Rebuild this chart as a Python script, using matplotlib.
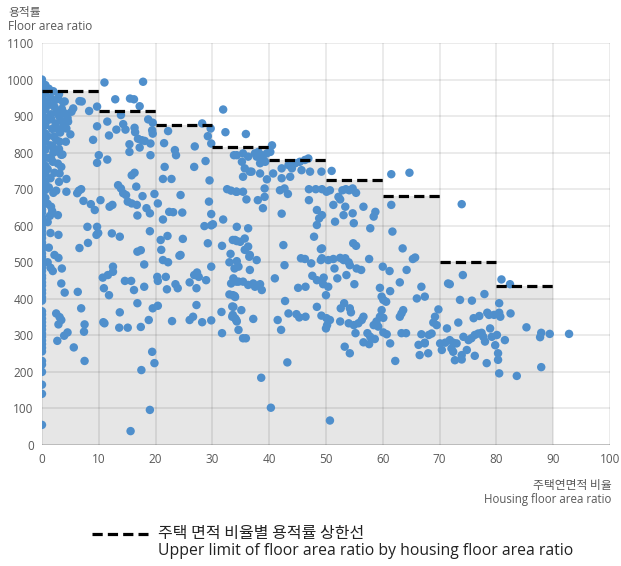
import numpy as np
import matplotlib
matplotlib.use("Agg")
import matplotlib.pyplot as plt
from matplotlib.lines import Line2D

plt.rcParams['font.family'] = ['Noto Sans CJK KR', 'DejaVu Sans']

# 용적률 상한선 (주택연면적 비율 구간별)
bin_edges = [0, 10, 20, 30, 40, 50, 60, 70, 80, 90]
upper_limit = [970, 915, 875, 815, 780, 725, 680, 500, 435]

# 주택연면적 비율 0% 필지의 용적률
zero_ratio_far = [1000, 992, 982, 968, 958, 947, 936, 926, 915, 904, 896, 886, 874, 866, 854,
                  846, 835, 826, 814, 806, 795, 786, 774, 765, 756, 744, 736, 724, 716, 704,
                  694, 686, 674, 666, 655, 644, 636, 624, 616, 605, 594, 586, 575, 566, 554,
                  545, 536, 524, 515, 506, 494, 485, 476, 464, 456, 445, 436, 424, 415, 404,
                  395, 366, 357, 346, 336, 326, 316, 305, 296, 286, 276, 266, 256, 230, 220,
                  200, 165, 140, 55]
near_zero_ratio = [0.6, 0.6, 0.6, 0.6, 0.6, 0.6, 0.6, 0.6, 0.6, 0.6, 0.6, 0.6, 0.6, 0.6, 0.6]
near_zero_far = [985, 962, 940, 918, 896, 874, 852, 830, 808, 786, 764, 742, 720, 698, 676]

# 개별 필지 (주택연면적 비율, 용적률)
ratio_a = [1.2, 2.0, 3.0, 1.5, 2.5, 4.0, 1.0, 2.2, 3.5, 1.6, 3.0, 4.5, 1.2, 2.4, 3.8, 1.8, 3.2,
           5.0, 1.0, 2.5, 4.2, 1.5, 3.0, 2.0, 3.6, 1.3, 2.8, 1.0, 2.2, 1.5, 3.0, 1.2, 2.0, 1.0,
           1.8, 1.0, 1.5, 1.2, 2.2, 1.0, 1.5, 1.9, 2.8, 3.7, 2.6, 4.1, 3.3, 1.6, 4.6, 2.5, 3.7,
           2.1, 3.1, 1.9, 2.8, 3.4, 1.6]
far_a = [975, 968, 960, 950, 945, 940, 930, 925, 920, 905, 900, 895, 890, 880, 875, 865, 855,
         850, 845, 835, 830, 820, 810, 800, 795, 785, 770, 755, 745, 730, 720, 705, 690, 660,
         640, 610, 580, 540, 520, 500, 485, 930, 948, 939, 912, 907, 889, 893, 885, 866, 870,
         844, 830, 816, 803, 794, 784]

ratio_b = [11.0, 17.8, 12.9, 15.5, 16.2, 17.2, 6.6, 7.0, 5.5, 5.2, 8.3, 9.7, 11.5, 13.9, 18.7,
           19.5, 9.7, 4.3, 13.1, 14.3, 14.7, 16.3, 16.4, 19.4, 19.5, 22.2, 28.2, 31.9, 29.7,
           29.2, 32.3, 11.8, 9.0, 16.9, 17.6, 18.1, 15.4, 15.4, 17.2, 19.1, 21.5, 23.4, 23.6,
           26.9, 28.8, 29.8, 33.8, 10.0, 9.7, 11.5, 19.1, 1.9, 3.4, 3.1, 4.3, 16.3, 15.8, 21.6,
           26.8, 21.3, 22.8, 29.5, 4.3, 2.5, 6.5, 6.9, 6.2, 13.4, 13.9, 14.3, 16.6, 14.8, 15.1,
           17.7, 19.8, 20.4, 24.4, 32.6, 33.3, 34.2, 7.3, 8.6, 9.3, 10.3, 11.9, 12.4, 15.8,
           16.7, 18.4, 16.8, 19.0, 21.3, 22.4, 23.1, 24.7, 29.8, 29.4, 31.9, 1.6, 2.8, 1.4,
           2.9, 8.0, 9.7, 9.6, 9.9, 12.3, 13.7, 19.0, 22.1, 24.8, 28.6, 29.8, 30.1, 29.2,
           31.7, 33.6, 34.3, 6.6, 8.1, 16.8, 17.4, 20.9, 21.0, 24.4, 33.2]
far_b = [992, 994, 946, 948, 946, 927, 941, 940, 921, 912, 914, 926, 885, 903, 891, 882, 872,
         866, 863, 878, 863, 868, 856, 861, 852, 859, 880, 918, 866, 845, 856, 847, 835, 838,
         834, 832, 823, 802, 814, 825, 826, 807, 793, 817, 777, 825, 793, 793, 772, 781, 793,
         775, 761, 743, 728, 745, 738, 761, 761, 728, 728, 724, 693, 696, 696, 700, 689, 711,
         702, 689, 707, 684, 666, 681, 687, 661, 684, 700, 696, 693, 668, 659, 643, 670, 652,
         657, 661, 657, 648, 628, 634, 617, 638, 637, 636, 632, 666, 617, 652, 629, 627, 575,
         597, 597, 575, 580, 579, 570, 585, 572, 564, 599, 601, 604, 552, 545, 561, 558, 539,
         553, 529, 533, 561, 534, 520, 523]

ratio_c = [2.9, 1.9, 3.5, 3.4, 4.0, 6.3, 6.9, 2.5, 3.1, 3.4, 2.9, 7.5, 7.4, 4.5, 3.9, 2.7, 5.6,
           7.5, 10.7, 11.6, 12.5, 12.5, 10.9, 11.8, 14.6, 15.7, 16.2, 18.0, 18.0, 16.8, 13.7,
           11.0, 10.8, 13.6, 15.1, 17.4, 18.8, 19.5, 20.4, 19.4, 19.8, 17.5, 19.0, 15.6, 21.3,
           22.2, 24.2, 20.3, 20.4, 21.8, 22.0, 23.5, 23.9, 22.9, 26.0, 26.8, 27.3, 27.6, 27.2,
           28.9, 29.8, 27.2, 26.0, 26.6, 28.2, 29.8, 31.6, 31.7, 33.0, 33.9, 33.3, 34.2, 33.0,
           33.9, 33.5, 33.5, 34.2]
far_c = [512, 476, 483, 442, 417, 419, 374, 360, 350, 342, 330, 330, 310, 308, 299, 285, 267,
         230, 458, 465, 488, 474, 429, 410, 449, 449, 424, 494, 433, 388, 363, 333, 336, 321,
         321, 323, 342, 374, 381, 255, 224, 205, 96, 38, 506, 500, 518, 460, 449, 460, 426,
         440, 429, 339, 445, 465, 472, 460, 429, 451, 488, 383, 342, 351, 336, 341, 364, 306,
         500, 483, 442, 447, 412, 408, 379, 351, 342]

ratio_d = [35.9, 34.3, 35.4, 36.3, 35.2, 35.7, 35.4, 36.6, 37.5, 38.1, 38.7, 39.0, 39.6, 40.2,
           40.5, 38.4, 39.3, 37.8, 36.9, 38.4, 39.6, 40.7, 42.2, 42.2, 43.4, 44.0, 43.7, 44.6,
           45.4, 46.3, 46.9, 45.7, 47.2, 49.2, 51.0, 34.3, 35.4, 36.0, 38.0, 39.2, 39.2, 38.9,
           41.9, 42.7, 43.3, 47.0, 48.2, 49.3, 50.1, 50.7, 47.0, 42.2, 42.5, 48.4, 49.3, 48.8,
           48.4, 47.9, 49.3, 51.3, 51.6, 52.9, 53.5, 54.1, 54.7, 55.3, 52.2, 52.5, 53.4, 53.1,
           54.7, 54.9, 56.6, 57.8, 58.7, 58.4, 54.8, 55.3, 61.5, 64.7, 61.5, 61.7, 63.5, 65.7,
           34.3, 34.0, 34.9, 35.7, 36.3, 36.3, 35.7, 36.6, 45.6, 49.1]
far_d = [851, 793, 798, 789, 775, 757, 734, 748, 798, 802, 793, 780, 798, 802, 820, 771, 775,
         789, 748, 743, 727, 743, 757, 730, 766, 757, 734, 771, 775, 780, 784, 752, 748, 748,
         750, 693, 693, 672, 670, 702, 679, 648, 697, 702, 687, 700, 700, 700, 693, 697, 670,
         633, 547, 643, 629, 620, 602, 570, 538, 657, 611, 697, 700, 697, 702, 690, 679, 672,
         652, 629, 634, 607, 652, 593, 638, 625, 552, 545, 741, 745, 657, 584, 538, 513, 597,
         561, 556, 565, 593, 543, 534, 520, 511, 536]

ratio_e = [36.5, 37.8, 34.3, 34.6, 36.6, 33.7, 34.6, 35.4, 36.3, 37.2, 37.5, 38.4, 38.7, 33.6,
           34.0, 33.7, 35.1, 33.6, 34.0, 34.3, 34.6, 35.4, 35.9, 37.2, 41.0, 42.7, 46.3, 47.4,
           49.1, 47.6, 48.4, 49.6, 45.1, 46.4, 42.8, 41.5, 43.4, 44.8, 45.3, 46.4, 42.1, 48.4,
           49.2, 50.0, 49.5, 50.4, 50.1, 50.7, 50.2, 50.0, 49.3, 50.4, 51.3, 52.5, 53.1, 54.0,
           53.4, 54.2, 51.5, 52.0, 53.6, 55.0, 53.2, 54.2, 54.4, 52.6, 52.5, 54.0, 54.9, 55.7,
           56.3, 56.6, 55.2, 53.3, 54.2, 55.4, 56.2, 57.6, 60.0, 61.2, 63.0, 59.5, 61.3, 59.8,
           60.1, 60.6, 64.2, 65.3, 59.8, 59.5, 58.9, 58.4, 59.2, 60.1, 57.3, 57.8, 56.6, 57.6,
           58.6, 60.1, 60.7, 61.3, 62.2, 63.3, 63.0, 63.6, 63.3, 64.1, 66.0, 66.8, 67.4, 66.3,
           66.5, 67.4, 66.8, 68.1, 38.6, 43.2, 40.3, 50.7]
far_e = [515, 506, 503, 488, 479, 456, 447, 447, 438, 442, 433, 440, 424, 410, 405, 378, 369,
         356, 347, 338, 315, 292, 292, 345, 456, 492, 509, 497, 506, 463, 451, 458, 430, 433,
         394, 342, 360, 358, 349, 351, 315, 378, 354, 410, 440, 433, 347, 342, 328, 319, 511,
         506, 509, 512, 506, 500, 511, 492, 483, 456, 465, 440, 388, 374, 363, 374, 338, 333,
         328, 333, 342, 351, 306, 269, 251, 483, 479, 509, 488, 476, 445, 430, 421, 406, 397,
         392, 479, 509, 369, 351, 338, 328, 324, 348, 306, 296, 281, 276, 290, 308, 303, 278,
         230, 360, 351, 369, 306, 306, 401, 433, 406, 274, 246, 278, 303, 301, 184, 226, 102,
         67]

ratio_f = [73.9, 74.1, 71.5, 71.8, 80.9, 82.4, 77.9, 73.6, 75.7, 80.5, 69.8, 69.2, 68.9, 69.5,
           73.3, 71.3, 76.0, 77.0, 78.4, 78.7, 79.6, 80.5, 80.7, 82.5, 85.3, 87.9, 87.7, 89.4,
           92.8, 87.9, 80.5, 83.6, 67.4, 68.0, 68.6, 70.1, 70.4, 71.0, 71.8, 72.4, 72.1, 72.4,
           72.7, 73.9, 73.9, 73.0, 74.2, 74.8, 75.1, 75.6, 76.2, 76.8, 77.4, 77.7, 78.0, 78.9,
           79.2, 79.8, 80.1, 80.3, 80.3, 78.3, 76.2, 81.5]
far_f = [659, 465, 442, 440, 453, 440, 413, 397, 395, 388, 371, 351, 335, 328, 335, 319, 347,
         353, 362, 356, 356, 362, 351, 360, 322, 307, 295, 304, 304, 213, 196, 189, 280, 251,
         305, 278, 260, 280, 287, 280, 264, 255, 232, 234, 246, 278, 296, 260, 287, 292, 301,
         305, 307, 296, 283, 319, 296, 273, 301, 251, 233, 224, 244, 287]

ratio = np.concatenate([np.zeros(len(zero_ratio_far)), near_zero_ratio,
                        ratio_a, ratio_b, ratio_c, ratio_d, ratio_e, ratio_f])
far = np.concatenate([zero_ratio_far, near_zero_far, far_a, far_b, far_c, far_d, far_e, far_f])

fig = plt.figure(figsize=(6.21, 5.66), dpi=100)
ax = fig.add_axes([0.0676, 0.2138, 0.9146, 0.7102])

# 상한선 아래 회색 영역
ax.fill_between(bin_edges, upper_limit + [upper_limit[-1]], 0, step='post',
                color='#e6e6e6', lw=0, zorder=1)

ax.set_xlim(0, 100)
ax.set_ylim(0, 1100)
ax.set_xticks(np.arange(0, 101, 10))
ax.set_yticks(np.arange(0, 1101, 100))
ax.grid(True, color='black', alpha=0.10, lw=1.1, zorder=2)
ax.set_axisbelow(False)
for s in ax.spines.values():
    s.set_visible(False)
ax.axhline(0, color='#c8c8c8', lw=1.2, zorder=2)
ax.tick_params(length=0, labelsize=8.5, labelcolor='#595959', pad=6)
for lab in ax.get_xticklabels() + ax.get_yticklabels():
    lab.set_family(['Open Sans', 'DejaVu Sans'])

ax.scatter(ratio, far, s=37, color='#4f8fcc', edgecolors='none', zorder=3)

# 구간별 상한선 (점선)
ax.hlines(upper_limit, bin_edges[:-1], bin_edges[1:], colors='black', lw=2.3,
          linestyles=(0, (3.2, 1.6)), zorder=4)

fig.text(0.013, 0.978, '용적률', fontsize=8.5, color='#595959', va='center')
fig.text(0.013, 0.953, 'Floor area ratio', fontsize=8.5, color='#595959', va='center',
         family=['Open Sans', 'DejaVu Sans'])
fig.text(0.985, 0.143, '주택연면적 비율', fontsize=8.5, color='#595959', ha='right', va='center')
fig.text(0.985, 0.117, 'Housing floor area ratio', fontsize=8.3, color='#595959', ha='right',
         va='center', family=['Open Sans', 'DejaVu Sans'])

# 범례
fig.add_artist(Line2D([0.148, 0.238], [0.057, 0.057], color='black', lw=2.3,
                      linestyle=(0, (3.2, 1.6)), transform=fig.transFigure))
fig.text(0.255, 0.058, '주택 면적 비율별 용적률 상한선', fontsize=11.5, color='#222222', va='center')
fig.text(0.255, 0.026, 'Upper limit of floor area ratio by housing floor area ratio', fontsize=11.3,
         color='#222222', va='center', family=['Open Sans', 'DejaVu Sans'])

fig.savefig('out.png', dpi=100)
